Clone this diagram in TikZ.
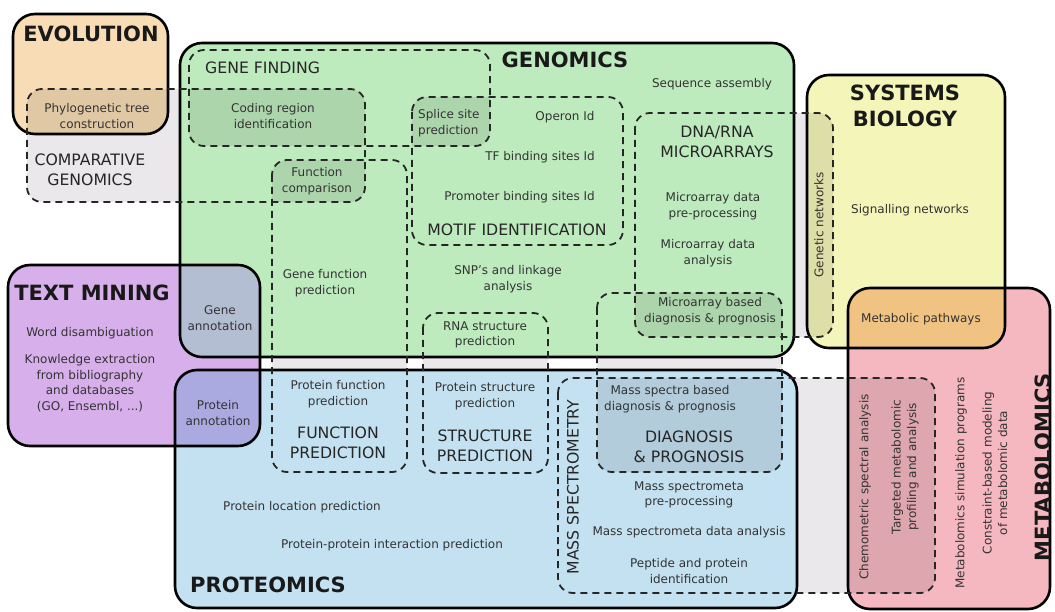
\documentclass[tikz,border=0pt]{standalone}
\usepackage{fontspec}
\setmainfont{DejaVu Sans}
\definecolor{evo}{HTML}{F8DCB5}
\definecolor{gen}{HTML}{BEEBBE}
\definecolor{sysb}{HTML}{F3F5B9}
\definecolor{meta}{HTML}{F5B7C0}
\definecolor{metpath}{HTML}{F0C383}
\definecolor{prot}{HTML}{C4E1F1}
\definecolor{txtm}{HTML}{D7AFEB}
\definecolor{geneann}{HTML}{B4BED2}
\definecolor{protann}{HTML}{AAAAE1}
\definecolor{dgray}{HTML}{EAE8EA}
\definecolor{tcol}{HTML}{333333}
\begin{document}
\begin{tikzpicture}[x=1pt,y=-1pt,
  solidbox/.style={draw=black, line width=2.6pt, rounded corners=22pt},
  rcs/.style={rounded corners=22pt},
  rcd/.style={rounded corners=15pt},
  dashbox/.style={draw=black!85, line width=1.8pt, dash pattern=on 7pt off 5pt, rounded corners=15pt},
  shade/.style={fill=black, fill opacity=0.09, rounded corners=15pt},
  sm/.style={font=\fontsize{12}{15.5}\selectfont, text=tcol, align=center, inner sep=0pt},
  md/.style={font=\fontsize{15.7}{20}\selectfont, text=black!85, align=center, inner sep=0pt},
  bf/.style={font=\fontsize{21}{26}\bfseries\selectfont, text=black!90, align=center, inner sep=0pt}]
\useasboundingbox[fill=white] (0,0) rectangle (1055,612);
% dashed box fills (visible on white)
\fill[dgray,rcd] (27,89) rectangle (365,202);
\fill[dgray,rcd] (272,160) rectangle (407,472);
\fill[dgray,rcd] (423,313) rectangle (548,473);
\fill[dgray,rcd] (597,293) rectangle (782,472);
\fill[dgray,rcd] (635,113) rectangle (833,337);
\fill[dgray,rcd] (558,378) rectangle (935,593);
% solid fills
\fill[evo,rcs] (13,14) rectangle (168,134);
\fill[gen,rcs] (180,43) rectangle (794,357);
\fill[prot,rcs] (175,370) rectangle (797,608);
\fill[sysb,rcs] (807,75) rectangle (1005,348);
\fill[meta,rcs] (848,288) rectangle (1050,609);
\fill[txtm,rcs] (8,265) rectangle (260,446);
% coloured overlaps
\begin{scope}
  \clip[rcs] (8,265) rectangle (260,446);
  \fill[geneann,rcs] (180,43) rectangle (794,357);
  \fill[protann,rcs] (175,370) rectangle (797,608);
\end{scope}
\begin{scope}
  \clip[rcs] (807,75) rectangle (1005,348);
  \fill[metpath,rcs] (848,288) rectangle (1050,609);
\end{scope}
% grey overlaps
\begin{scope}\clip[rcs] (13,14) rectangle (168,134);
  \fill[shade] (27,89) rectangle (365,202);\end{scope}
\begin{scope}\clip[rcd] (189,50) rectangle (490,146);
  \fill[shade] (27,89) rectangle (365,202);
  \fill[shade] (412,97) rectangle (623,245);\end{scope}
\begin{scope}\clip[rcd] (272,160) rectangle (407,472);
  \fill[shade] (27,89) rectangle (365,202);\end{scope}
\begin{scope}\clip[rcd] (635,113) rectangle (833,337);
  \fill[shade] (597,293) rectangle (782,472);\end{scope}
\begin{scope}\clip[rcd] (558,378) rectangle (935,593);
  \fill[shade] (597,293) rectangle (782,472);\end{scope}
\begin{scope}\clip[rcs] (807,75) rectangle (1005,348);
  \fill[shade] (635,113) rectangle (833,337);\end{scope}
\begin{scope}\clip[rcs] (848,288) rectangle (1050,609);
  \fill[shade] (558,378) rectangle (935,593);\end{scope}
% solid borders
\draw[solidbox] (13,14) rectangle (168,134);
\draw[solidbox] (180,43) rectangle (794,357);
\draw[solidbox] (175,370) rectangle (797,608);
\draw[solidbox] (807,75) rectangle (1005,348);
\draw[solidbox] (848,288) rectangle (1050,609);
\draw[solidbox] (8,265) rectangle (260,446);
% dashed borders
\draw[dashbox] (27,89) rectangle (365,202);
\draw[dashbox] (189,50) rectangle (490,146);
\draw[dashbox] (412,97) rectangle (623,245);
\draw[dashbox] (272,160) rectangle (407,472);
\draw[dashbox] (423,313) rectangle (548,473);
\draw[dashbox] (635,113) rectangle (833,337);
\draw[dashbox] (597,293) rectangle (782,472);
\draw[dashbox] (558,378) rectangle (935,593);
% headings
\node[bf] (tevo) at (91,34) {EVOLUTION};
\node[bf] (tgen) at (565,60) {GENOMICS};
\node[bf] (tsys) at (905,106) {SYSTEMS\\BIOLOGY};
\node[bf] (ttxt) at (92,293) {TEXT MINING};
\node[bf] (tprot) at (268,585) {PROTEOMICS};
\node[bf,rotate=90] (tmeta) at (1043,467) {METABOLOMICS};
% medium
\node[md,anchor=west] (tgf) at (205,68) {GENE FINDING};
\node[md] (tcg) at (90,170) {COMPARATIVE\\GENOMICS};
\node[md] (tmotif) at (517,230) {MOTIF IDENTIFICATION};
\node[md] (tdna) at (717,142) {DNA/RNA\\MICROARRAYS};
\node[md] (tfp) at (338,443) {FUNCTION\\PREDICTION};
\node[md] (tsp) at (485,446) {STRUCTURE\\PREDICTION};
\node[md] (tdp) at (689,447) {DIAGNOSIS\\\& PROGNOSIS};
\node[md,rotate=90] (tms) at (573,487) {MASS SPECTROMETRY};
% small
\node[sm] (phylo) at (97,116) {Phylogenetic tree\\construction};
\node[sm] (coding) at (273,116) {Coding region\\identification};
\node[sm] (fcomp) at (317,181) {Function\\comparison};
\node[sm,align=left,anchor=west] (splice) at (418,123) {Splice site\\prediction};
\node[sm] (operon) at (565,117) {Operon Id};
\node[sm,anchor=east] (tfb) at (595,157) {TF binding sites Id};
\node[sm,anchor=east] (prom) at (595,197) {Promoter binding sites Id};
\node[sm] (seqa) at (712,84) {Sequence assembly};
\node[sm] (mpre) at (713,206) {Microarray data\\pre-processing};
\node[sm] (mana) at (708,253) {Microarray data\\analysis};
\node[sm] (mdiag) at (710,311) {Microarray based\\diagnosis \& prognosis};
\node[sm,rotate=90] (gnet) at (819,225) {Genetic networks};
\node[sm] (signal) at (910,210) {Signalling networks};
\node[sm] (metp) at (921,319) {Metabolic pathways};
\node[sm] (gfunc) at (325,283) {Gene function\\prediction};
\node[sm] (snp) at (508,279) {SNP's and linkage\\analysis};
\node[sm] (rna) at (485,335) {RNA structure\\prediction};
\node[sm] (gann) at (220,318) {Gene\\annotation};
\node[sm] (word) at (90,333) {Word disambiguation};
\node[sm] (know) at (90,383) {Knowledge extraction\\from bibliography\\and databases\\(GO, Ensembl, ...)};
\node[sm] (pann) at (218,413) {Protein\\annotation};
\node[sm] (pfunc) at (338,394) {Protein function\\prediction};
\node[sm] (pstruct) at (485,396) {Protein structure\\prediction};
\node[sm] (ploc) at (302,507) {Protein location prediction};
\node[sm] (ppi) at (392,545) {Protein-protein interaction prediction};
\node[sm] (msdiag) at (670,399) {Mass spectra based\\diagnosis \& prognosis};
\node[sm] (mspre) at (689,495) {Mass spectrometa\\pre-processing};
\node[sm] (msana) at (689,532) {Mass spectrometa data analysis};
\node[sm] (pep) at (689,571) {Peptide and protein\\identification};
\node[sm,rotate=90] (chemo) at (865,487) {Chemometric spectral analysis};
\node[sm,rotate=90] (targ) at (905,467) {Targeted metabolomic\\profiling and analysis};
\node[sm,rotate=90] (msim) at (961,483) {Metabolomics simulation programs};
\node[sm,rotate=90] (cons) at (995,473) {Constraint-based modeling\\of metabolomic data};
\end{tikzpicture}
\end{document}
